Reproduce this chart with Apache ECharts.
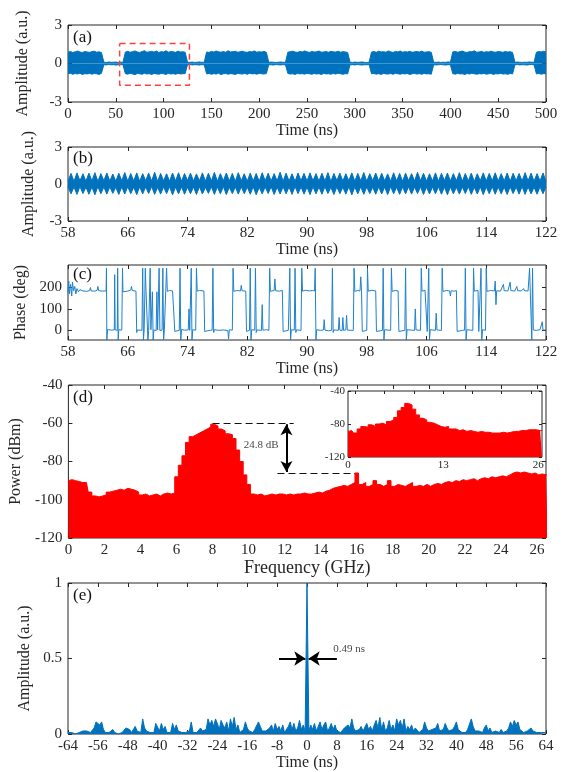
<!DOCTYPE html>
<html>
<head>
<meta charset="utf-8">
<title>Chaotic burst signal</title>
<script src="https://cdn.jsdelivr.net/npm/echarts@6.0.0/dist/echarts.min.js"></script>
<style>
  html, body { margin: 0; padding: 0; background: #fff; }
  #main { width: 564px; height: 772px; }
</style>
</head>
<body>
<div id="main"></div>
<script>
// (a) burst train, envelope every 2.5 ns, in 0.01 a.u.
var stepA = 2.5;
var upperA = [
  88,94,85,91,97,89,86,93,90,87,92,96,88,91,85,
  10,8,12,9,10,11,8,10,9,
  89,95,87,92,98,90,86,93,100,88,91,94,89,97,86,92,90,99,88,93,91,87,96,89,92,88,
  10,9,11,8,10,12,9,10,
  90,86,94,89,97,91,88,93,87,100,90,92,95,88,91,96,89,87,93,90,98,88,92,89,94,87,
  9,11,10,8,10,12,9,10,
  88,92,96,89,87,93,90,98,91,86,94,89,92,97,88,90,93,87,95,91,89,96,88,92,90,86,
  10,8,11,9,10,12,9,8,10,
  89,93,87,96,90,92,88,98,91,86,94,90,97,88,92,89,95,87,91,93,89,96,88,90,92,87,
  10,9,11,8,10,9,12,10,
  90,94,88,92,97,89,86,93,91,99,88,90,95,87,92,89,96,90,88,93,91,87,94,89,92,86,
  9,11,10,8,10,9,12,10,9,
  88,93,90,96,89
];
var lowerA = [
  -80,-76,-84,-78,-82,-75,-86,-79,-81,-77,-83,-78,-80,-85,-76,
  -9,-11,-8,-10,-9,-12,-10,-8,-10,
  -79,-83,-76,-81,-87,-78,-80,-84,-75,-82,-79,-86,-77,-81,-83,-78,-80,-85,-76,-82,-79,-84,-77,-81,-80,-78,
  -10,-8,-11,-9,-10,-12,-9,-10,
  -81,-77,-84,-79,-82,-76,-86,-80,-78,-83,-79,-81,-85,-77,-80,-82,-78,-84,-76,-81,-79,-83,-77,-80,-82,-78,
  -9,-10,-12,-8,-10,-11,-9,-10,
  -78,-82,-80,-85,-77,-81,-79,-83,-76,-80,-84,-78,-82,-79,-86,-77,-81,-80,-83,-78,-82,-76,-80,-84,-79,-81,
  -10,-9,-11,-8,-10,-12,-9,-10,-8,
  -80,-78,-83,-79,-85,-77,-81,-82,-78,-84,-76,-80,-83,-79,-81,-77,-86,-80,-78,-82,-79,-84,-77,-81,-80,-83,
  -9,-11,-10,-8,-10,-12,-9,-10,
  -79,-83,-77,-81,-80,-85,-78,-82,-76,-80,-84,-79,-81,-77,-83,-80,-78,-85,-79,-81,-77,-82,-80,-84,-78,-81,
  -10,-8,-11,-9,-10,-12,-9,-8,-10,
  -81,-78,-83,-79,-80
];
var ticksA = [0,50,100,150,200,250,300,350,400,450,500];
var zoomBox = [[54,1.55],[127,1.55],[127,-1.7],[54,-1.7],[54,1.55]];

// (b) zoomed burst, node / lobe envelope every 0.4 ns from 58 ns, in 0.01 a.u.
var startB = 58, stepB = 0.4;
var upperB = [
  24,86,22,90,26,83,23,88,25,92,21,84,27,89,24,81,22,87,26,93,
  23,85,25,90,22,84,27,88,24,95,21,86,26,83,23,89,25,91,22,85,
  28,88,24,82,26,90,23,87,25,94,22,84,27,89,24,86,21,92,26,83,
  23,88,25,85,22,91,27,87,24,84,26,96,23,88,25,83,22,89,27,86,
  24,90,26,84,23,87,25,92,21,85,28,88,24,83,26,90,23,86,25,93,
  22,84,27,89,24,87,26,82,23,91,25,86,22,88,27,84,24,95,26,87,
  23,83,25,90,22,86,28,89,24,84,26,92,23,85,25,88,21,83,27,90,
  24,86,26,91,23,84,25,89,22,87,27,85,24,92,26,88,23,84,25,90,
  22
];
var lowerB = [
  -23,-80,-25,-84,-21,-78,-26,-83,-24,-87,-22,-79,-25,-82,-23,-76,-27,-85,-24,-81,
  -22,-79,-26,-86,-23,-80,-25,-77,-21,-84,-27,-82,-24,-78,-22,-88,-25,-80,-23,-83,
  -26,-79,-24,-85,-22,-81,-27,-76,-23,-84,-25,-80,-21,-86,-26,-78,-24,-82,-22,-79,
  -25,-83,-23,-87,-27,-80,-24,-77,-22,-85,-26,-81,-23,-79,-25,-84,-21,-78,-24,-82,
  -26,-86,-23,-80,-25,-83,-22,-77,-27,-85,-24,-79,-26,-82,-23,-88,-25,-80,-22,-84,
  -24,-78,-26,-83,-23,-81,-25,-86,-21,-79,-27,-84,-24,-80,-22,-82,-25,-77,-23,-85,
  -26,-81,-24,-79,-22,-83,-25,-87,-23,-80,-27,-82,-24,-78,-22,-84,-26,-81,-23,-86,
  -25,-79,-22,-83,-24,-80,-26,-85,-23,-78,-25,-82,-21,-84,-24,-80,-26,-83,-23,-79,
  -24
];
var ticksB = [58,66,74,82,90,98,106,114,122];

// (c) phase (deg) vs time (ns)
var phase = [
  [58.0,175],[58.1,230],[58.2,170],[58.35,215],[58.5,160],[58.6,225],[58.75,185],[58.9,205],[59.05,170],[59.2,195],
  [59.4,180],[59.6,190],[60.0,184],[60.5,182],[60.9,186],[61.0,200],[61.1,184],[61.6,183],[61.9,187],[62.0,205],
  [62.1,185],[62.6,183],[63.1,184],
  [63.15,290],[63.2,-45],[63.3,4],[63.8,1],[64.0,-3],[64.2,2],[64.25,260],[64.32,2],[64.6,0],[64.65,290],[64.72,-45],
  [64.8,3],[65.2,1],
  [65.3,290],[65.35,180],[65.5,186],[66.0,183],[66.4,188],[66.5,205],[66.6,186],[67.1,183],
  [67.2,-10],[67.3,2],[67.9,0],[68.0,290],[68.1,-45],[68.2,3],[68.35,290],[68.45,180],[68.6,182],[68.7,-45],
  [68.8,0],[69.0,290],[69.1,3],[69.3,180],[69.4,-45],[69.5,2],[69.8,-1],[69.9,180],[70.0,2],[70.2,290],
  [70.3,0],[70.6,1],[70.7,290],[70.8,-45],[70.9,3],[71.1,0],
  [71.2,290],[71.3,182],[71.6,186],[72.0,184],[72.2,185],
  [72.3,-5],[72.4,2],[72.9,0],[73.0,290],[73.1,-45],[73.2,4],[73.6,1],[74.1,2],[74.2,100],[74.3,0],
  [74.5,290],[74.6,-45],[74.7,3],[75.1,1],
  [75.2,290],[75.3,183],[75.6,186],[76.2,184],
  [76.3,-5],[76.4,2],[77.0,0],[77.3,1],[77.4,290],[77.5,-10],[77.6,3],[78.2,0],[78.8,2],[79.4,-1],
  [79.5,-40],[79.6,3],[80.0,1],
  [80.1,290],[80.2,182],[80.6,186],[81.1,184],[81.2,210],[81.3,185],[81.8,183],
  [81.9,-5],[82.0,2],[82.3,0],[82.4,290],[82.5,-45],[82.6,3],[83.0,1],[83.1,290],[83.2,-10],[83.3,2],
  [83.9,0],[84.0,120],[84.1,1],[84.6,3],[84.9,0],
  [85.0,290],[85.1,182],[85.6,186],[85.7,240],[85.8,185],[86.3,183],[86.7,186],
  [86.8,-5],[86.9,2],[87.5,0],[87.7,290],[87.8,-45],[87.9,3],[88.3,1],[88.4,290],[88.5,-10],[88.6,2],[89.2,0],
  [89.3,290],[89.4,183],[89.8,187],[90.3,184],[90.7,186],[91.0,184],[91.1,290],[91.2,-45],
  [91.3,3],[91.8,0],[92.2,2],[92.3,50],[92.4,1],[92.9,-2],[93.3,1],[93.4,290],[93.5,-10],[93.6,2],
  [94.2,0],[94.3,60],[94.4,1],[94.7,-2],[94.8,60],[94.9,0],[95.2,2],[95.3,70],[95.4,1],[96.2,0],
  [96.3,290],[96.4,182],[96.8,186],[97.1,184],[97.2,250],[97.3,185],
  [97.4,-5],[97.5,2],[98.0,0],
  [98.1,290],[98.2,183],[98.7,187],[99.2,184],
  [99.3,-5],[99.4,2],[99.8,-2],[100.1,0],[100.2,290],[100.3,-45],[100.4,3],[101.2,0],
  [101.3,290],[101.4,182],[101.8,186],[102.2,184],
  [102.3,-5],[102.4,2],[103.1,0],[103.2,290],[103.3,-45],[103.4,3],[104.0,1],[104.4,0],[104.5,100],[104.6,2],[105.2,0],
  [105.3,290],[105.4,183],[105.8,187],[106.0,184],
  [106.1,-5],[106.2,2],[106.3,290],[106.4,-45],[106.5,3],[107.2,0],[107.3,80],[107.4,2],[108.0,0],
  [108.1,290],[108.2,182],[108.7,186],[109.1,184],[109.2,160],[109.3,185],[109.7,183],[110.0,186],
  [110.1,-5],[110.2,2],[110.8,0],[111.1,1],[111.2,290],[111.3,-45],[111.4,3],[112.2,0],
  [112.3,290],[112.4,183],[112.9,186],
  [113.0,-5],[113.1,2],[113.3,290],[113.4,-45],[113.5,3],[113.9,0],
  [114.0,290],[114.1,182],[114.6,186],[115.1,184],[115.2,230],[115.3,120],[115.4,185],[115.9,183],[116.3,215],[116.4,185],
  [116.9,184],[117.2,225],[117.3,186],[117.8,183],[118.1,205],[118.2,185],[118.7,184],[119.0,195],[119.1,185],[119.6,184],
  [119.8,290],[119.9,175],
  [120.1,-45],[120.2,290],[120.3,2],[120.7,0],[121.2,3],[121.5,40],[121.6,1],[122.0,2]
];

// (d) RF spectrum, dBm every 0.2 GHz from 0
var stepD = 0.2;
var spectrum = [
  -90,-89.5,-90,-90.5,-91,-91,
  -96,-98,-98.5,-98,-97.5,  -96,-95.5,-95,-94.5,-95,  -94,-94.5,-95,-96,-97.5,
  -97,-98,-97.5,-97,-98,    -97,-96.5,-97,-96.5,-88,  -82,-77,-70,-67,-66,
  -65,-64,-63,-62,-60.5,    -61.5,-63,-64,-65.5,-66,  -68,-74,-80,-87,-92,
  -97,-97.5,-97,-98,-97.5,  -97,-97.5,-97,-97,-97.5,  -97,-97.5,-97,-97,-96.5,
  -97,-97,-96.5,-96,-96.5,  -95.5,-95,-94,-93.5,-93,  -92.5,-93,-92,-91,-86,
  -92,-91,-93,-92,-90,      -92,-93,-92,-90,-93,      -92,-92.5,-93,-92,-91,
  -93,-92.5,-93,-92,-93,    -92,-91.5,-92,-91,-90.5,  -91,-90,-90.5,-89.5,-90,
  -89.5,-89,-90,-89,-88.5,  -89,-88,-88.5,-88,-87.5,  -88,-87,-86,-85.5,-86,
  -85.5,-86,-86.5,-86,-87,  -86.5,-87,-87
];
var ticksD = [0,2,4,6,8,10,12,14,16,18,20,22,24,26];
// inset spectrum, dBm every 0.5 GHz
var stepIn = 0.5;
var insetSpec = [
  -89,-88,-91,-86,-83,-84,-81,-83,-80,-79,
  -81,-77,-75,-72,-64,-60,-55,-57,-62,-69,
  -73,-75,-78,-79,-81,-83,-84,-83,-86,-86,
  -88,-87,-89,-88,-89,-90,-89,-90,-90,-91,
  -91,-91,-90,-91,-90,-89,-89,-88,-88,-87,
  -87,-87,-88,-88
];
var insetLabels = [0,13,26];
var insetTicks = [1,5,9,13,17,21,25];

// (e) autocorrelation, every 0.5 ns from -64, in 0.01 a.u.
var startE = -64, stepE = 0.5;
var corr = [
  1,1,1,1,0,1,1,1,2,1,2,3,1,2,4,8,
  9,6,8,3,1,2,1,1,3,1,1,0,1,1,2,4,
  5,3,1,2,5,2,1,1,10,4,2,1,1,2,1,7,
  6,2,7,3,5,1,2,1,7,3,6,2,2,1,2,1,
  1,2,8,1,2,1,1,4,2,1,3,10,6,9,5,10,
  7,3,9,6,4,8,2,10,5,11,3,6,1,2,3,8,
  4,2,1,1,3,2,8,5,2,1,2,1,4,6,2,7,
  3,5,2,6,1,2,5,8,3,7,2,4,9,3,6,2,
  100,
  2,6,3,7,2,5,8,3,6,8,2,4,7,3,6,2,
  3,1,2,4,3,6,4,10,4,2,1,3,5,2,3,7,
  3,5,2,6,9,4,11,3,8,2,4,9,3,6,2,10,
  6,9,4,10,2,5,3,6,2,4,5,1,2,3,8,4,
  2,1,3,2,4,7,2,1,3,7,4,2,1,3,5,8,
  3,2,1,2,1,3,4,10,5,2,1,2,3,1,4,6,
  2,4,1,1,2,1,1,3,1,1,2,4,8,5,9,6,
  8,3,2,1,1,2,1,4,2,1,1,2,1,1,1,1
];
var ticksE = [-64,-56,-48,-40,-32,-24,-16,-8,0,8,16,24,32,40,48,56,64];

var INK = '#262626', FONT = 'Liberation Serif', BLUE = '#0072bd';

function sampled(arr, t0, dt, k) {
  return arr.map(function (v, i) { return [t0 + i * dt, v * k]; });
}

var grids = [
  {left: 68, top: 25, width: 478, height: 77},
  {left: 68, top: 147, width: 478, height: 74},
  {left: 68, top: 265, width: 478, height: 75},
  {left: 68, top: 385, width: 478, height: 153},
  {left: 68, top: 583, width: 478, height: 151},
  {left: 348, top: 391, width: 194, height: 66}
].map(function (g) {
  g.show = true; g.borderColor = INK; g.borderWidth = 1; g.backgroundColor = 'transparent';
  return g;
});

var xAxes = [], yAxes = [];
function addAxes(gi, xr, yr, fs) {
  var tick = function (vals) {
    return {show: true, inside: true, length: fs > 12 ? 4 : 3, customValues: vals, lineStyle: {color: INK}};
  };
  xAxes.push({
    type: 'value', gridIndex: gi, position: 'bottom', min: xr.min, max: xr.max,
    axisLine: {show: false, onZero: false}, splitLine: {show: false},
    axisTick: tick(xr.ticks || xr.labels),
    axisLabel: {customValues: xr.labels, color: INK, fontFamily: FONT, fontSize: fs, margin: fs > 12 ? 5 : 3},
    name: xr.name || '', nameLocation: 'middle', nameGap: xr.gap || 20,
    nameTextStyle: {color: INK, fontFamily: FONT, fontSize: xr.nameSize || 16}
  });
  xAxes.push({
    type: 'value', gridIndex: gi, position: 'top', min: xr.min, max: xr.max,
    axisLine: {show: false, onZero: false}, splitLine: {show: false},
    axisTick: tick(xr.ticks || xr.labels), axisLabel: {show: false}
  });
  yAxes.push({
    type: 'value', gridIndex: gi, position: 'left', min: yr.min, max: yr.max,
    axisLine: {show: false, onZero: false}, splitLine: {show: false},
    axisTick: tick(yr.ticks || yr.labels),
    axisLabel: {customValues: yr.labels, color: INK, fontFamily: FONT, fontSize: fs, margin: fs > 12 ? 6 : 3},
    name: yr.name || '', nameLocation: 'middle', nameGap: yr.gap || 36,
    nameTextStyle: {color: INK, fontFamily: FONT, fontSize: 16}
  });
  yAxes.push({
    type: 'value', gridIndex: gi, position: 'right', min: yr.min, max: yr.max,
    axisLine: {show: false, onZero: false}, splitLine: {show: false},
    axisTick: tick(yr.ticks || yr.labels), axisLabel: {show: false}
  });
}

addAxes(0, {min: 0, max: 500, labels: ticksA, name: 'Time (ns)'},
           {min: -3, max: 3, labels: [-3, 0, 3], name: 'Amplitude (a.u.)', gap: 37}, 15);
addAxes(1, {min: 58, max: 122, labels: ticksB, name: 'Time (ns)'},
           {min: -3, max: 3, labels: [-3, 0, 3], name: 'Amplitude (a.u.)', gap: 31}, 15);
addAxes(2, {min: 58, max: 122, labels: ticksB, name: 'Time (ns)'},
           {min: -45, max: 305, labels: [0, 100, 200], name: 'Phase (deg)', gap: 34}, 15);
addAxes(3, {min: 0, max: 26.5, labels: ticksD, name: 'Frequency (GHz)', nameSize: 18, gap: 19},
           {min: -120, max: -40, labels: [-120, -100, -80, -60, -40], name: 'Power (dBm)', gap: 38}, 15);
addAxes(4, {min: -64, max: 64, labels: ticksE, name: 'Time (ns)'},
           {min: 0, max: 1, labels: [0, 0.5, 1], name: 'Amplitude (a.u.)', gap: 33}, 15);
addAxes(5, {min: 0, max: 26.5, labels: insetLabels, ticks: insetTicks},
           {min: -120, max: -40, labels: [-120, -80, -40]}, 11);

function onGrid(gi) { return {xAxisIndex: gi * 2, yAxisIndex: gi * 2}; }

function band(gi, data, color) {
  return Object.assign({
    type: 'line', data: data, symbol: 'none', silent: true,
    lineStyle: {color: color, width: 1}, areaStyle: {color: color, opacity: 1}
  }, onGrid(gi));
}

var series = [
  band(0, sampled(upperA, 0, stepA, 0.01), BLUE),
  band(0, sampled(lowerA, 0, stepA, 0.01), BLUE),
  Object.assign({type: 'line', data: zoomBox, symbol: 'none', silent: true, z: 5,
    lineStyle: {color: '#ff4040', width: 1.5, type: [6, 4]}}, onGrid(0)),

  band(1, sampled(upperB, startB, stepB, 0.01), BLUE),
  band(1, sampled(lowerB, startB, stepB, 0.01), BLUE),

  Object.assign({type: 'line', data: phase, symbol: 'none', silent: true,
    lineStyle: {color: '#1f80cc', width: 1}}, onGrid(2)),

  Object.assign({
    type: 'line', data: sampled(spectrum, 0, stepD, 1), step: 'middle', symbol: 'none', silent: true,
    lineStyle: {color: '#ff0000', width: 1}, areaStyle: {color: '#ff0000', opacity: 1, origin: 'start'},
    markLine: {
      silent: true, animation: false, label: {show: false},
      data: [
        [{coord: [8, -60], symbol: 'none', lineStyle: {color: '#111', width: 1.2, type: [7, 4]}},
         {coord: [12.5, -60], symbol: 'none'}],
        [{coord: [11.6, -86], symbol: 'none', lineStyle: {color: '#111', width: 1.2, type: [7, 4]}},
         {coord: [15.9, -86], symbol: 'none'}],
        [{coord: [12.1, -60.5], symbol: 'arrow', symbolSize: [9, 11], lineStyle: {color: '#000', width: 2, type: 'solid'}},
         {coord: [12.1, -85.5], symbol: 'arrow', symbolSize: [9, 11]}]
      ]
    }
  }, onGrid(3)),
  Object.assign({type: 'scatter', data: [[10.7, -71.6]], symbolSize: 0, silent: true,
    label: {show: true, position: 'inside', formatter: '24.8 dB', color: '#111', fontFamily: FONT, fontSize: 11}}, onGrid(3)),

  Object.assign({
    type: 'line', data: sampled(corr, startE, stepE, 0.01), symbol: 'none', silent: true,
    lineStyle: {color: BLUE, width: 1}, areaStyle: {color: BLUE, opacity: 1},
    markLine: {
      silent: true, animation: false, label: {show: false},
      lineStyle: {color: '#000', width: 2, type: 'solid'},
      data: [
        [{coord: [-7.5, 0.5], symbol: 'none'}, {coord: [-0.45, 0.5], symbol: 'arrow', symbolSize: [11, 11]}],
        [{coord: [8, 0.5], symbol: 'none'}, {coord: [0.45, 0.5], symbol: 'arrow', symbolSize: [11, 11]}]
      ]
    }
  }, onGrid(4)),
  Object.assign({type: 'scatter', data: [[11.3, 0.56]], symbolSize: 0, silent: true,
    label: {show: true, position: 'inside', formatter: '0.49 ns', color: '#111', fontFamily: FONT, fontSize: 11}}, onGrid(4)),

  Object.assign({
    type: 'line', data: sampled(insetSpec, 0, stepIn, 1), step: 'middle', symbol: 'none', silent: true,
    lineStyle: {color: '#ff0000', width: 1}, areaStyle: {color: '#ff0000', opacity: 1, origin: 'start'}
  }, onGrid(5))
];

var panelTitles = ['(a)', '(b)', '(c)', '(d)', '(e)'];
var titleTops = [29, 150, 266, 389, 587];
var titles = panelTitles.map(function (t, i) {
  return {text: t, left: 73, top: titleTops[i], padding: 0,
    textStyle: {color: '#111', fontFamily: FONT, fontSize: 17, fontWeight: 'normal'}};
});

var chart = echarts.init(document.getElementById('main'));
chart.setOption({
  animation: false,
  backgroundColor: '#fff',
  title: titles,
  grid: grids,
  xAxis: xAxes,
  yAxis: yAxes,
  series: series
});
</script>
</body>
</html>
